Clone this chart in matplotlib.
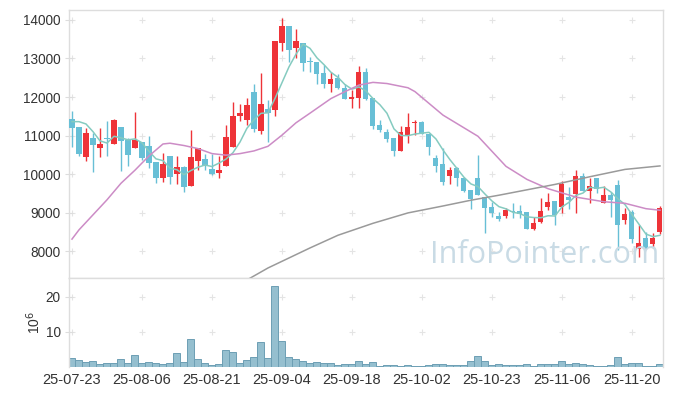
import numpy as np
import pandas as pd
import matplotlib
matplotlib.use('Agg')
import matplotlib.pyplot as plt

plt.rcParams['font.family'] = ['Liberation Sans', 'DejaVu Sans']

# daily candles, 85 trading days (25-07-23 .. 25-11-26)
opens = [11430, 11220, 10450, 10940, 10680, 10940, 10790, 11220, 10880, 10680,
         10820, 10730, 10300, 9890, 10470, 9990, 10190, 9680, 10330, 10390,
         10130, 10030, 10220, 10700, 11500, 11400, 12130, 11120, 11700, 11650,
         13390, 13840, 13280, 13400, 12920, 12900, 12620, 12330, 12500, 12240,
         11960, 11970, 12640, 11970, 11270, 11080, 10930, 10610, 10990, 11320,
         11360, 11040, 10420, 10250, 9950, 10160, 9890, 9590, 9900, 9400,
         9150, 8920, 8920, 9050, 9040, 9010, 8560, 8760, 9150, 9300,
         9150, 9400, 9480, 9950, 9570, 9890, 9240, 9460, 9720, 8810,
         9020, 8050, 8350, 8180, 8500]
highs = [11640, 11230, 11190, 11070, 11190, 11380, 11430, 11230, 10930, 11600,
         10830, 11000, 10310, 10550, 10470, 10470, 10200, 11140, 10680, 10530,
         10530, 10460, 11270, 11870, 11810, 11970, 12350, 12630, 11920, 13450,
         14050, 13850, 13760, 13400, 13050, 12910, 12830, 12660, 12600, 12330,
         12180, 12810, 12750, 11970, 11400, 11170, 10930, 11250, 11580, 11400,
         11370, 11040, 10490, 10670, 10190, 10170, 9890, 9590, 10490, 9400,
         9280, 9020, 9110, 9240, 9200, 9020, 8880, 9370, 9500, 9300,
         9830, 9670, 10100, 10020, 9890, 9900, 9690, 9540, 9850, 9110,
         9070, 8680, 8500, 8460, 9170]
lows = [10690, 10480, 10350, 10050, 10450, 10480, 10790, 10090, 10210, 10680,
        10360, 10160, 9760, 9790, 9730, 9730, 9530, 9680, 10100, 10100,
        9970, 9900, 10220, 10700, 11370, 11270, 11090, 11050, 10830, 11510,
        13190, 12910, 13020, 12680, 12650, 12330, 12230, 12130, 12220, 11950,
        11720, 11720, 11920, 11170, 11080, 10820, 10470, 10600, 10800, 11010,
        11030, 10490, 10060, 9720, 9730, 9700, 9530, 9090, 9450, 8460,
        8890, 8780, 8850, 8850, 8850, 8560, 8550, 8720, 9070, 8680,
        9000, 9080, 9000, 9560, 9260, 9500, 9240, 8890, 8030, 8700,
        8200, 7850, 8040, 8070, 8440]
closes = [11200, 10520, 11070, 10750, 10770, 10910, 11400, 10870, 10490, 10890,
          10410, 10290, 9890, 10260, 9920, 10190, 9650, 10440, 10680, 10210,
          9990, 10100, 10960, 11510, 11590, 11790, 11180, 11810, 11580, 13450,
          13840, 13230, 13460, 12890, 12900, 12600, 12350, 12470, 12230, 11960,
          12010, 12640, 11940, 11250, 11150, 10910, 10610, 11080, 11230, 11360,
          11030, 10710, 10220, 9800, 10100, 9890, 9570, 9350, 9460, 9130,
          8990, 8830, 9070, 9010, 8970, 8560, 8740, 9040, 9270, 8940,
          9740, 9330, 9950, 9570, 9690, 9610, 9460, 9330, 8680, 8960,
          8310, 8200, 8050, 8350, 9130]
volume = [2.6, 2.1, 1.5, 1.8, 0.9, 1.1, 1.1, 2.3, 1.1, 3.4,
          1.1, 1.4, 1.1, 0.9, 1.1, 4.0, 1.4, 8.0, 2.3, 1.1,
          0.6, 0.9, 4.8, 4.3, 1.1, 2.1, 2.8, 7.1, 2.6, 23.0,
          7.4, 2.8, 2.3, 1.7, 1.1, 1.4, 1.1, 1.1, 0.6, 0.9,
          0.9, 1.8, 0.9, 1.4, 0.2, 0.6, 0.6, 0.2, 0.6, 0.2,
          0.2, 0.6, 0.9, 0.9, 0.6, 0.6, 0.6, 1.8, 3.1, 1.8,
          0.6, 0.9, 0.6, 0.6, 0.6, 0.9, 0.2, 0.9, 0.9, 0.9,
          1.8, 0.9, 1.1, 0.9, 0.6, 0.2, 0.2, 0.6, 2.8, 0.9,
          1.1, 1.1, 0.2, 0.2, 0.9]

# MA5 before day 5 comes from older history
ma5_head = [11360, 11360, 11300, 11100]
ma20_idx = [0, 1, 5, 7, 9, 11, 13, 14, 16, 18, 20, 22, 24, 26, 28, 30, 32, 34, 37, 39,
            41, 43, 45, 48, 49, 53, 58, 62, 65, 68, 72, 76, 79, 82, 84]
ma20_val = [8310, 8550, 9330, 9760, 10100, 10470, 10780, 10800, 10740, 10660,
            10530, 10490, 10530, 10600, 10720, 11010, 11330, 11580, 11960, 12140,
            12310, 12380, 12350, 12240, 12140, 11530, 10980, 10200, 9860, 9620,
            9400, 9280, 9240, 9100, 9060]
ma60_idx = [25, 28, 31, 34, 38, 43, 48, 53, 57, 61, 65, 69, 74, 79, 84]
ma60_val = [7250, 7560, 7820, 8080, 8410, 8720, 8990, 9170, 9320, 9450, 9590, 9730,
            9930, 10120, 10210]

tick_pos = [0, 10, 20, 30, 40, 50, 60, 70, 80]
tick_lab = ['25-07-23', '25-08-06', '25-08-21', '25-09-04', '25-09-18',
            '25-10-02', '25-10-23', '25-11-06', '25-11-20']
price_ticks = [8000, 9000, 10000, 11000, 12000, 13000, 14000]
vol_ticks = [10, 20]

RED = '#ee3338'
BLUE = '#68bfd6'
EDGE = '#dddddd'

df = pd.DataFrame({'o': opens, 'h': highs, 'l': lows, 'c': closes, 'v': volume})
df['ma5'] = df['c'].rolling(5).mean()
df.loc[:3, 'ma5'] = ma5_head
x = np.arange(len(df))
up = df['c'] >= df['o']
colors = np.where(up, RED, BLUE)

fig = plt.figure(figsize=(6.73, 3.96), dpi=100)
ax = fig.add_axes([0.1025, 0.298, 0.8826, 0.6768])
axv = fig.add_axes([0.1025, 0.0732, 0.8826, 0.2247], sharex=ax)

# grid crosses
gx, gy = np.meshgrid(tick_pos, price_ticks)
ax.scatter(gx.ravel(), gy.ravel(), marker='+', s=22, color='#e4e4e4', lw=0.8, zorder=0)
gx, gy = np.meshgrid(tick_pos, vol_ticks)
axv.scatter(gx.ravel(), gy.ravel(), marker='+', s=22, color='#e4e4e4', lw=0.8, zorder=0)

# candles
ax.vlines(x, df['l'], df['h'], colors=colors, lw=1.0, zorder=2)
body_lo = np.minimum(df['o'], df['c'])
body_h = np.maximum(np.abs(df['c'] - df['o']), 25)
ax.bar(x, body_h, bottom=body_lo, width=0.72, color=colors, zorder=3)

ax.plot(x, df['ma5'], color='#85cbc0', lw=1.1, zorder=4)
ax.plot(ma20_idx, ma20_val, color='#cc8cc6', lw=1.1, zorder=4)
ax.plot(ma60_idx, ma60_val, color='#9a9a9a', lw=1.1, zorder=4)

ax.text(0.80, 0.087, 'InfoPointer.com', transform=ax.transAxes, ha='center', va='center',
        fontsize=22, color='#c9dbe5', family='Open Sans', zorder=5)

ax.set_xlim(-0.43, 84.43)
ax.set_ylim(7300, 14260)
ax.set_yticks(price_ticks)
ax.set_yticklabels([str(t) for t in price_ticks])
ax.tick_params(axis='y', direction='inout', length=6, color=EDGE, labelsize=9.8,
               labelcolor='#333333', pad=3)
ax.tick_params(axis='x', bottom=False, labelbottom=False)

# volume
axv.bar(x, df['v'], width=1.0, color='#95bfcf', edgecolor='#6d9fb4', lw=0.7, zorder=2)
axv.set_ylim(0, 25.4)
axv.set_yticks(vol_ticks)
axv.set_ylabel('10$^6$', fontsize=10, color='#333333', labelpad=2)
axv.set_xticks(tick_pos)
axv.set_xticklabels(tick_lab)
axv.tick_params(axis='y', direction='inout', length=6, color=EDGE, labelsize=9.8,
                labelcolor='#333333', pad=3)
axv.tick_params(axis='x', length=0, labelsize=10.5, labelcolor='#333333', pad=4)

for a in (ax, axv):
    for s in a.spines.values():
        s.set_color(EDGE)
        s.set_linewidth(1.0)
axv.spines['bottom'].set_visible(False)

fig.savefig('out.png', dpi=100)
